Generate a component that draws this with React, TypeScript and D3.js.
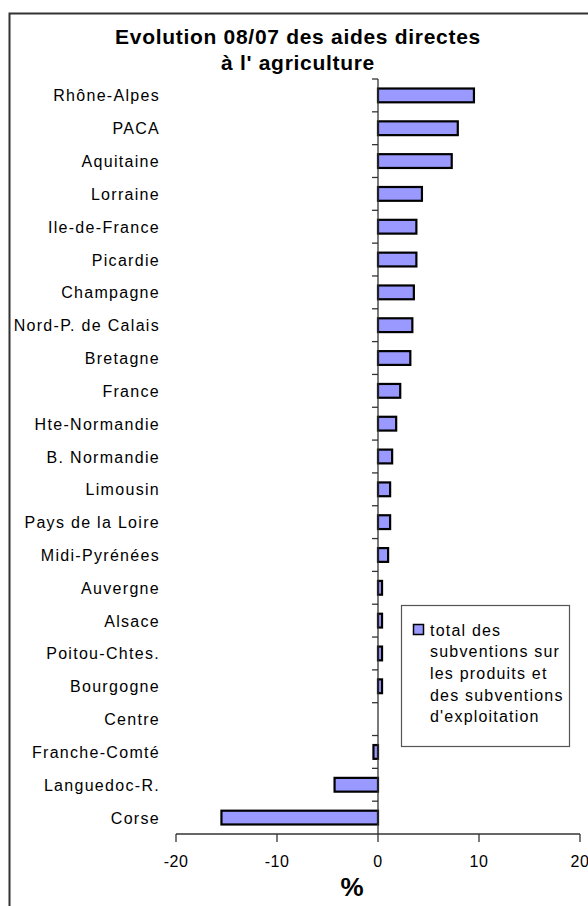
import React from "react";
import * as d3 from "d3";

const categories = [
  "Rhône-Alpes", "PACA", "Aquitaine", "Lorraine", "Ile-de-France", "Picardie",
  "Champagne", "Nord-P. de Calais", "Bretagne", "France", "Hte-Normandie",
  "B. Normandie", "Limousin", "Pays de la Loire", "Midi-Pyrénées", "Auvergne",
  "Alsace", "Poitou-Chtes.", "Bourgogne", "Centre", "Franche-Comté",
  "Languedoc-R.", "Corse",
];
const values = [
  9.5, 7.9, 7.3, 4.35, 3.8, 3.8, 3.55, 3.4, 3.2, 2.2, 1.8,
  1.4, 1.2, 1.2, 1.0, 0.4, 0.4, 0.4, 0.4, 0, -0.45, -4.3, -15.5,
];
const xTicks = [-20, -10, 0, 10, 20];
const titleLines = ["Evolution 08/07 des aides directes", "à l' agriculture"];
const legendLines = ["total des", "subventions sur", "les produits et", "des subventions", "d'exploitation"];
const xLabel = "%";

export default function App() {
  const W = 588, H = 906;
  const x = d3.scaleLinear().domain([-20, 20]).range([176, 580]);
  const y = d3.scaleBand<string>().domain(categories).range([79, 834]).paddingInner(0.58).paddingOuter(0.29);
  const step = y.step();
  const top = 79, bottom = 834;
  const font = "'Liberation Sans', Arial, sans-serif";
  const boundaries = d3.range(categories.length).map((i) => top + i * step);

  return (
    <svg width={W} height={H} style={{ position: "absolute", left: 0, top: 0, display: "block" }}>
      <rect x={0} y={0} width={W} height={H} fill="#fff" />
      <rect x={9.5} y={13.5} width={700} height={1000} fill="none" stroke="#333" strokeWidth={2} />
      {titleLines.map((t, i) => (
        <text key={i} x={298} y={43.5 + i * 26} textAnchor="middle" fontFamily={font}
          fontWeight="bold" fontSize={21} letterSpacing={0.7} fill="#000">{t}</text>
      ))}
      {categories.map((c, i) => {
        const v = values[i];
        const y0 = y(c)!;
        return (
          <g key={c}>
            <text x={160} y={top + (i + 0.5) * step + 6} textAnchor="end" fontFamily={font}
              fontSize={16} letterSpacing={1.3} fill="#000">{c}</text>
            {v !== 0 && (
              <rect x={x(Math.min(0, v))} y={y0} width={Math.abs(x(v) - x(0))} height={y.bandwidth()}
                fill="#9999FF" stroke="#000" strokeWidth={2.2} />
            )}
          </g>
        );
      })}
      {/* y axis (zero line) */}
      <line x1={x(0)} x2={x(0)} y1={top} y2={bottom} stroke="#333" strokeWidth={1.3} />
      {boundaries.map((b, i) => (
        <line key={i} x1={x(0) - 6} x2={x(0)} y1={b} y2={b} stroke="#333" strokeWidth={1.3} />
      ))}
      {/* x axis */}
      <line x1={x(-20)} x2={x(20)} y1={bottom} y2={bottom} stroke="#333" strokeWidth={1.3} />
      {xTicks.map((t) => (
        <g key={t}>
          <line x1={x(t)} x2={x(t)} y1={bottom} y2={bottom + 8} stroke="#333" strokeWidth={1.3} />
          <text x={x(t)} y={867} textAnchor="middle" fontFamily={font} fontSize={16}
            letterSpacing={0.5} fill="#000">{t}</text>
        </g>
      ))}
      <text x={352} y={896} textAnchor="middle" fontFamily={font} fontWeight="bold" fontSize={26} fill="#000">{xLabel}</text>
      {/* legend */}
      <rect x={401.5} y={605.5} width={168} height={141} fill="#fff" stroke="#555" strokeWidth={1.2} />
      <rect x={413.5} y={624.5} width={10} height={10} fill="#9999FF" stroke="#000" strokeWidth={1.5} />
      {legendLines.map((l, i) => (
        <text key={i} x={430} y={635.5 + i * 21.7} fontFamily={font} fontSize={16} letterSpacing={1.2} fill="#000">{l}</text>
      ))}
    </svg>
  );
}
